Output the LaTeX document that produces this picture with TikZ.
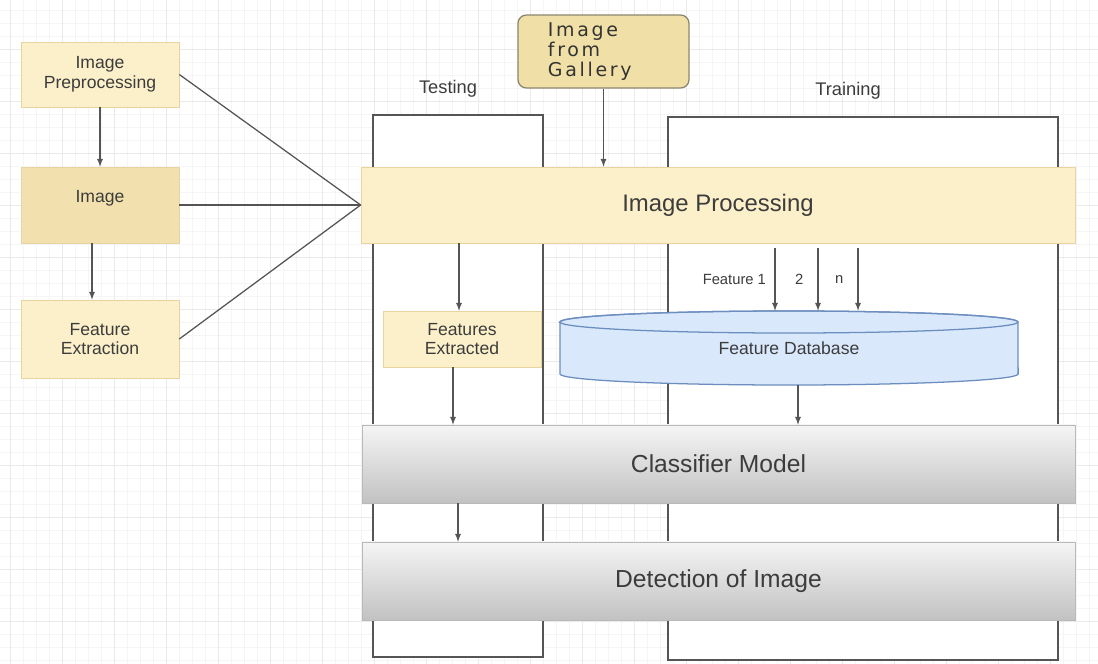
\documentclass[tikz,border=0pt]{standalone}
\usepackage{fontspec}
\setsansfont{Liberation Sans}
\newfontfamily\galleryfont[LetterSpace=14]{DejaVu Sans}
\usetikzlibrary{arrows}
\usetikzlibrary{positioning}
\definecolor{boxFill}{HTML}{FCF0CA}
\definecolor{boxLine}{HTML}{E6D5A0}
\definecolor{imgFill}{HTML}{F2E1AE}
\definecolor{galFill}{HTML}{F0DFA6}
\definecolor{galLine}{HTML}{8C8670}
\definecolor{dbFill}{HTML}{DAE8FC}
\definecolor{dbLine}{HTML}{6C8EBF}
\definecolor{lineGray}{HTML}{555555}
\definecolor{textGray}{HTML}{3C3C3C}
\definecolor{gridMinor}{HTML}{F5F5F5}
\definecolor{gridMajor}{HTML}{EAEAEA}

\begin{document}
\begin{tikzpicture}[x = 0.025cm, y = -0.025cm, font=\sffamily, text=textGray]
	\tikzstyle{smallBoxStyle} = [draw = boxLine, fill = boxFill, minimum width = 3.95cm, align = center, font = \sffamily\fontsize{12.5}{14}\selectfont]
	\tikzstyle{wideBoxStyle} = [draw = boxLine, fill = boxFill, minimum width = 17.85cm, minimum height = 1.9cm, font = \sffamily\fontsize{17}{19}\selectfont]
	\tikzstyle{grayBoxStyle} = [draw = gray!55, top color = gray!8, bottom color = gray!48, minimum width = 17.825cm, minimum height = 1.95cm, font = \sffamily\fontsize{17.5}{19}\selectfont]
	\tikzstyle{columnStyle} = [draw = lineGray, line width = 1.1pt, fill = white]
	\tikzstyle{headStyle} = [font = \sffamily\fontsize{13}{15}\selectfont]
	\tikzstyle{featStyle} = [font = \sffamily\fontsize{10.5}{12}\selectfont]
	\tikzstyle{lineStyle} = [draw = lineGray, line width = 0.9pt]
	\tikzstyle{arrowStyle} = [lineStyle, -latex]
	\useasboundingbox (0,0) rectangle (1098,664);
	% grid
	\foreach \gx in {10,23,...,1098} \draw[gridMinor, line width = 0.4pt] (\gx,0) -- (\gx,664);
	\foreach \gy in {10,23,...,664} \draw[gridMinor, line width = 0.4pt] (0,\gy) -- (1098,\gy);
	\foreach \gx in {10,62,...,1098} \draw[gridMajor, line width = 0.6pt] (\gx,0) -- (\gx,664);
	\foreach \gy in {49,101,...,664} \draw[gridMajor, line width = 0.6pt] (0,\gy) -- (1098,\gy);
	% columns
	\node[columnStyle, minimum width = 4.25cm, minimum height = 13.55cm] (testCol) at (458,386) {};
	\node[columnStyle, minimum width = 9.75cm, minimum height = 13.575cm] (trainCol) at (863,388.5) {};
	\node[headStyle, above = 0.3cm of testCol.north, xshift = -0.25cm] (testLbl) {Testing};
	\node[headStyle, above = 0.3cm of trainCol.north, xshift = -0.375cm] (trainLbl) {Training};
	% left side
	\node[smallBoxStyle, minimum height = 1.625cm] (prep) at (100,74.5) {Image\\Preprocessing};
	\node[smallBoxStyle, minimum height = 1.9cm, fill = imgFill, text depth = 0.45cm] (img) at (100,205) {Image};
	\node[smallBoxStyle, minimum height = 1.95cm] (featExt) at (100,339) {Feature\\Extraction};
	% main boxes
	\node[draw = galLine, fill = galFill, rounded corners = 6pt, line width = 0.9pt, minimum height = 1.825cm, text width = 2.775cm, inner xsep = 0.75cm, align = left, text = black!80, font = \galleryfont\fontsize{13.5}{14.5}\selectfont] (gallery) at (603.5,51.5) {Image\\from\\Gallery};
	\node[wideBoxStyle] (imgProc) at (718,205) {Image Processing};
	\node[smallBoxStyle, minimum height = 1.4cm] (featExtd) at (462,339) {Features\\Extracted};
	% database cylinder
	\draw[draw = dbLine, fill = dbFill, line width = 0.9pt] (560,322) -- (560,374) arc[start angle = 180, end angle = 360, x radius = 5.725cm, y radius = 0.275cm] -- (1018,322) arc[start angle = 0, end angle = 180, x radius = 5.725cm, y radius = 0.275cm] -- cycle;
	\draw[draw = dbLine, line width = 0.9pt] (789,322) ellipse [x radius = 5.725cm, y radius = 0.275cm];
	\node[minimum width = 11.45cm, minimum height = 1.85cm, font = \sffamily\fontsize{12.5}{14}\selectfont] (fdb) at (789,348) {Feature Database};
	\node[grayBoxStyle] (classif) at (718.5,464) {Classifier Model};
	\node[grayBoxStyle] (detect) at (718.5,581) {Detection of Image};
	% connectors
	\draw[arrowStyle] (prep.south) -- (img.north);
	\draw[arrowStyle] ([xshift = -0.2cm]img.south) -- ([xshift = -0.2cm]img.south |- featExt.north);
	\draw[lineStyle] (prep.east) -- (imgProc.west);
	\draw[lineStyle] (img.east) -- (imgProc.west);
	\draw[lineStyle] (featExt.east) -- (imgProc.west);
	\draw[arrowStyle] (gallery.south) -- (gallery.south |- imgProc.north);
	\draw[arrowStyle] ([xshift = -0.075cm]featExtd.north |- imgProc.south) -- ([xshift = -0.075cm]featExtd.north);
	\draw[arrowStyle] ([xshift = 1.425cm, yshift = -0.125cm]imgProc.south) -- node[featStyle, left, inner sep = 6pt] {Feature 1} ([xshift = 1.425cm]imgProc.south |- fdb.north);
	\draw[arrowStyle] ([xshift = 2.5cm, yshift = -0.125cm]imgProc.south) -- node[featStyle, left, inner sep = 10pt] {2} ([xshift = 2.5cm]imgProc.south |- fdb.north);
	\draw[arrowStyle] ([xshift = 3.5cm, yshift = -0.125cm]imgProc.south) -- node[featStyle, left, inner sep = 10pt] {n} ([xshift = 3.5cm]imgProc.south |- fdb.north);
	\draw[arrowStyle] ([xshift = -0.225cm]featExtd.south) -- ([xshift = -0.225cm]featExtd.south |- classif.north);
	\draw[arrowStyle] ([xshift = 0.225cm]fdb.south) -- ([xshift = 0.225cm]fdb.south |- classif.north);
	\draw[arrowStyle] (testCol.south |- classif.south) -- (testCol.south |- detect.north);
\end{tikzpicture}
\end{document}
